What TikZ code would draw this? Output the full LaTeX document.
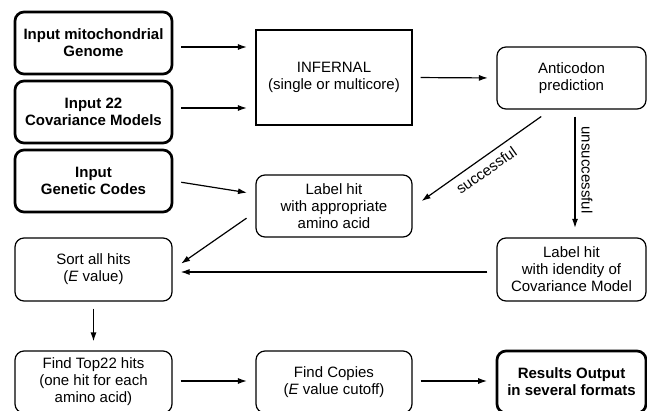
\documentclass[tikz,border=0pt]{standalone}
\usepackage{fontspec}
\setmainfont{Liberation Sans}
\usetikzlibrary{arrows.meta}
\begin{document}
\begin{tikzpicture}[x=1pt,y=1pt,
  box/.style={draw, line width=1.2pt, rounded corners=9pt, align=center, inner sep=0pt,
    font=\fontsize{15}{17}\selectfont},
  boldbox/.style={box, line width=2.7pt, font=\fontsize{15}{17}\selectfont\bfseries},
  sqbox/.style={box, rounded corners=0pt},
  lw/.style={minimum width=157pt},
  rw/.style={minimum width=149pt},
  arr/.style={line width=1.2pt, -{Latex[length=9pt,width=6pt]}},
  lbl/.style={font=\fontsize{15}{17}\selectfont, inner sep=0pt}
]
\useasboundingbox (0,0) rectangle (647,410);
\clip (0,0) rectangle (647,410);
% left column
\node[boldbox, lw, minimum height=62pt] (in1) at (93.5,367) {Input mitochondrial\\Genome};
\node[boldbox, lw, minimum height=62pt] (in2) at (93.5,298) {Input 22\\Covariance Models};
\node[boldbox, lw, minimum height=62pt] (in3) at (93.5,229) {Input\\Genetic Codes};
\node[box, lw, minimum height=63pt] (sort) at (93.5,140.5) {Sort all hits\\(\textit{E} value)};
\node[box, lw, minimum height=62pt] (top) at (93.5,28) {Find Top22 hits\\(one hit for each\\amino acid)};
% middle column
\node[sqbox, minimum width=156pt, minimum height=95pt] (inf) at (334,332.5) {INFERNAL\\(single or multicore)};
\node[box, minimum width=156pt, minimum height=62pt] (lapp) at (334,204) {Label hit\\with appropriate\\amino acid};
\node[box, minimum width=156pt, minimum height=62pt] (copy) at (334,28) {Find Copies\\(\textit{E} value cutoff)};
% right column
\node[box, rw, minimum height=62pt] (anti) at (571.5,332) {Anticodon\\prediction};
\node[box, rw, minimum height=63pt] (lid) at (571.5,140.5) {Label hit\\with idendity of\\Covariance Model};
\node[boldbox, rw, minimum height=62pt] (res) at (571.5,28) {Results Output\\in several formats};
% connectors
\draw[arr, shorten <=8pt, shorten >=8.5pt] ([yshift=-4pt]in1.east) -- ([yshift=-4pt]in1.east -| inf.west);
\draw[arr, shorten <=8pt, shorten >=8.5pt] ([yshift=4pt]in2.east) -- ([yshift=4pt]in2.east -| inf.west);
\draw[arr, shorten <=8pt, shorten >=8.5pt] (in3.east) -- ([yshift=12pt]lapp.west);
\draw[arr, shorten <=8pt, shorten >=8.5pt] (inf.east) -- (anti.west);
\draw[arr, shorten <=12pt, shorten >=11pt] ([xshift=-20.5pt]anti.south) -- ([yshift=-1.4pt]lapp.east)
  node[lbl, midway, xshift=4.5pt, yshift=-11.8pt, rotate=35.3] {successful};
\draw[arr, shorten <=7pt, shorten >=9.5pt] ([xshift=3.5pt]anti.south) -- ([xshift=3.5pt]lid.north)
  node[lbl, midway, xshift=12pt, yshift=3.5pt, rotate=-90] {unsuccessful};
\draw[arr, shorten <=10.8pt, shorten >=10.3pt] ([yshift=-6pt]lapp.west) -- (sort.east);
\draw[arr, shorten <=9pt, shorten >=8pt] ([yshift=-2.5pt]lid.west) -- ([yshift=-2.5pt]lid.west -| sort.east);
\draw[arr, shorten <=7pt, shorten >=9pt] (sort.south) -- (top.north);
\draw[arr, shorten <=8pt, shorten >=8.5pt] ([yshift=1pt]top.east) -- ([yshift=1pt]top.east -| copy.west);
\draw[arr, shorten <=8pt, shorten >=8.5pt] ([yshift=1pt]copy.east) -- ([yshift=1pt]copy.east -| res.west);
\end{tikzpicture}
\end{document}
